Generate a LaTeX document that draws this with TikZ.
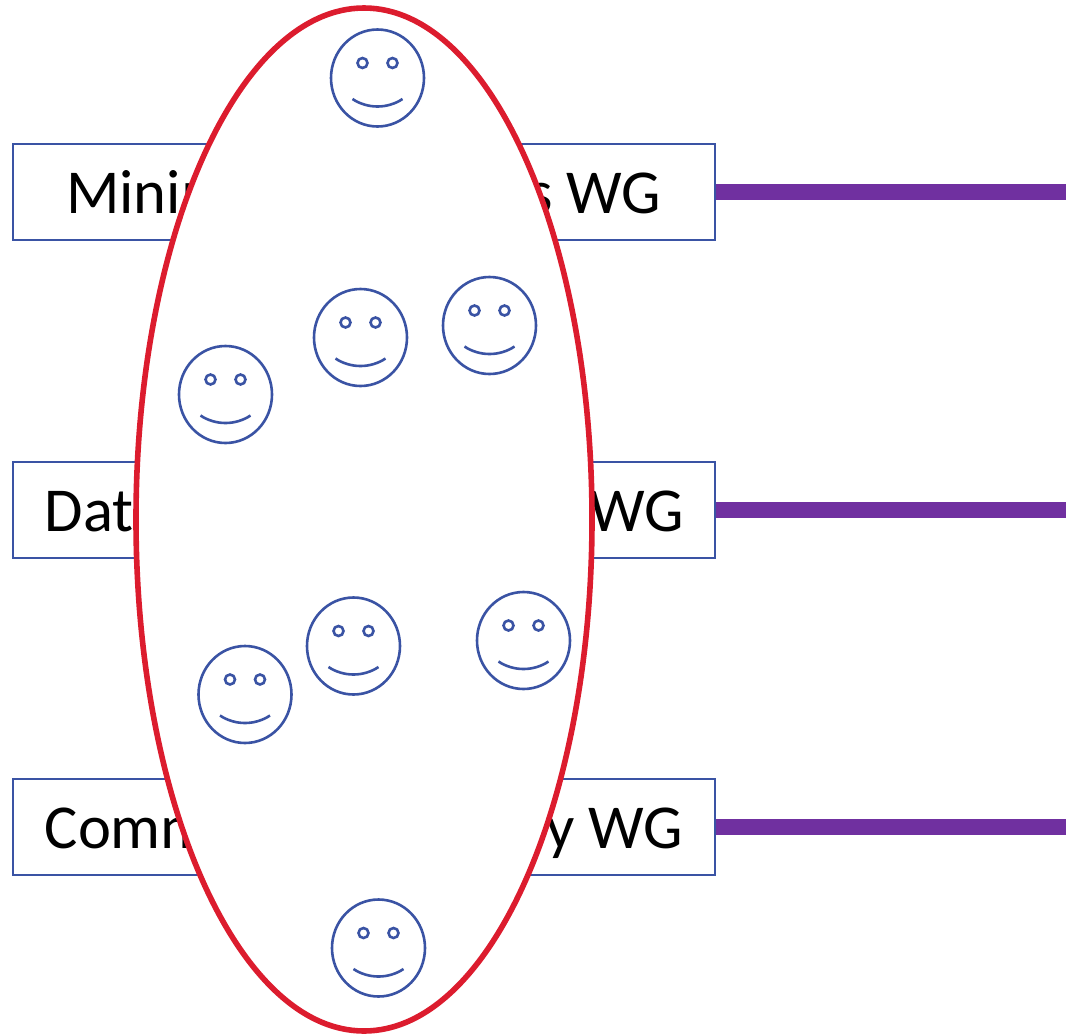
\documentclass[tikz,border=0pt]{standalone}
\usepackage{fontspec}
\setmainfont{Carlito}
\usetikzlibrary{shapes.geometric}
\definecolor{boxblue}{HTML}{3A53A4}
\definecolor{wgpurple}{HTML}{7030A0}
\definecolor{ringred}{HTML}{DC1C2E}
\tikzset{
  x=1pt,y=-1pt,
  wgbox/.style={draw=boxblue,line width=1.8pt,fill=white,minimum width=702.3pt,minimum height=96.3pt,inner sep=0pt,anchor=north west},
  wglabel/.style={font=\fontsize{62.5}{64}\selectfont,text=black,inner sep=0pt},
  wgline/.style={draw=wgpurple,line width=16pt},
  ring/.style={ellipse,draw=ringred,line width=5.6pt,fill=white,minimum width=456pt,minimum height=1023pt,inner sep=0pt,outer sep=0pt},
  smiley/.pic={
    \draw[boxblue,line width=2.6pt,fill=white] (0,0) ellipse [x radius=46.5,y radius=48.5];
    \draw[boxblue,line width=2.6pt] (-15,-15) circle [radius=5];
    \draw[boxblue,line width=2.6pt] (15,-15) circle [radius=5];
    \draw[boxblue,line width=2.6pt] (-25,21) .. controls (-10,31) and (10,31) .. (25,21);
  }
}
\begin{document}
\begin{tikzpicture}
\useasboundingbox (0,0) rectangle (1066,1034);
\node[wgbox] (b1) at (12,143) {};
\node[wgbox] (b2) at (12,461) {};
\node[wgbox] (b3) at (12,778) {};
\coordinate (edge) at (1066,0);
\draw[wgline] (b1.east) -- (b1.east -| edge);
\draw[wgline] (b2.east) -- (b2.east -| edge);
\draw[wgline] (b3.east) -- (b3.east -| edge);
\node[wglabel,anchor=base west] (l1) at (66,213) {Minim};
\node[wglabel,anchor=base east] (r1) at (661.5,213) {s WG};
\node[wglabel,anchor=base west] (l2) at (44.5,531) {Dat};
\node[wglabel,anchor=base east] (r2) at (684.5,531) {WG};
\node[wglabel,anchor=base west] (l3) at (44.5,848) {Comm};
\node[wglabel,anchor=base east] (r3) at (683.5,848) {y WG};
\node[ring] (oval) at (364,519.5) {};
\pic at (377.5,78) {smiley};
\pic at (360.5,337.5) {smiley};
\pic at (489.5,325.5) {smiley};
\pic at (225.5,394.5) {smiley};
\pic at (353.5,646) {smiley};
\pic at (523.5,640.5) {smiley};
\pic at (245,694.5) {smiley};
\pic at (378.5,948) {smiley};
\end{tikzpicture}
\end{document}
